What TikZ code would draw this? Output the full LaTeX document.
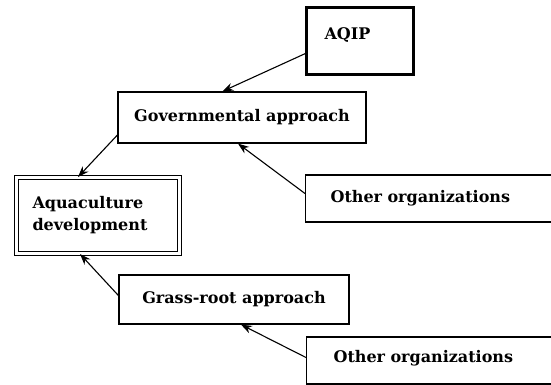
\documentclass[tikz,border=0pt]{standalone}
\usepackage{fontspec}
\setmainfont{DejaVu Serif}
\usetikzlibrary{arrows.meta}

\begin{document}
\begin{tikzpicture}[x=1pt,y=-1pt,
    font=\fontsize{16}{22}\selectfont\bfseries,
    box/.style={draw,line width=1.2pt,fill=white,inner sep=0pt},
    link/.style={line width=1.1pt,-{Stealth[length=11pt,width=8pt]}}]
  \useasboundingbox (0,0) rectangle (551,384);
  \node[box,line width=3pt,anchor=north west,text width=71pt,inner xsep=18pt,
        text height=32pt,text depth=35pt] (aqip) at (305,6) {AQIP};
  \node[box,minimum width=248pt,minimum height=51pt] (gov) at (242,117.5) {Governmental approach};
  \node[box,double,double distance=3pt,line width=1pt,minimum width=163pt,minimum height=76pt,
        text width=131pt,align=left] (aqua) at (98,215.5) {Aquaculture\\development};
  % the two side boxes run off the right edge
  \node[box,anchor=west,text width=215pt,inner xsep=25pt,align=left,minimum height=47pt] (org1) at (305,198.5) {Other organizations};
  \node[box,minimum width=230pt,minimum height=49pt] (grass) at (234,299.5) {Grass-root approach};
  \node[box,anchor=west,text width=215pt,inner xsep=27pt,align=left,minimum height=47pt,text depth=8pt] (org2) at (306,360.5) {Other organizations};
  \draw[link] (aqip.193) -- (gov.127);
  \draw[link] (gov.188) -- ([xshift=-20pt]aqua.north);
  \draw[link] ([yshift=5pt]org1.west) -- ([xshift=-4pt]gov.south);
  \draw[link] ([yshift=4pt]grass.west) -- ([xshift=-18pt]aqua.south);
  \draw[link] ([yshift=3pt]org2.west) -- ([xshift=7pt]grass.south);
\end{tikzpicture}
\end{document}
